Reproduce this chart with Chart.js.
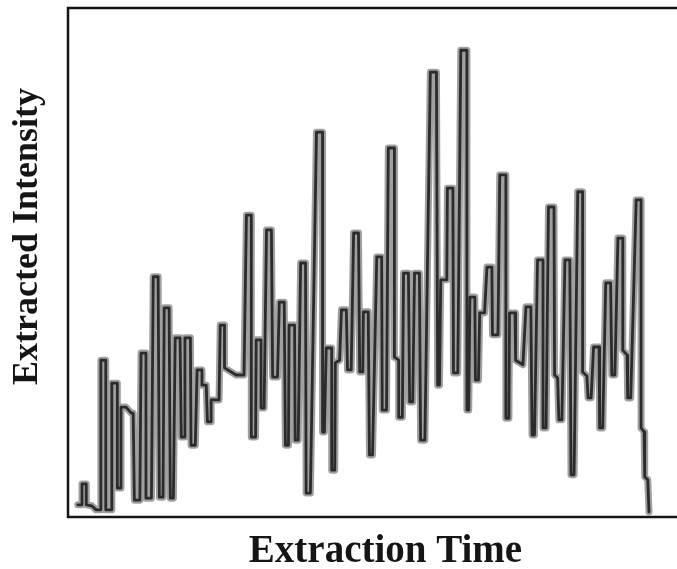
<!DOCTYPE html>
<html>
<head>
<meta charset="utf-8">
<title>Extracted Intensity vs Extraction Time</title>
<script src="https://cdn.jsdelivr.net/npm/chart.js@4.4.1/dist/chart.umd.min.js"></script>
<style>
  body { margin: 0; background: #fff; }
  .chart-box { width: 677px; height: 569px; }
</style>
</head>
<body>
<div class="chart-box"><canvas id="trace"></canvas></div>
<script>
// Recorder trace (time and intensity in % of full scale)
const extractionTime = [
  1.6, 2.3, 2.3, 3.0, 3.0, 3.9, 4.6, 5.4, 5.4, 6.2, 6.2, 7.1, 7.2, 8.1, 8.1, 8.6, 8.7, 9.5, 10.4, 10.7,
  10.9, 11.8, 12.0, 12.8, 12.8, 13.7, 14.0, 14.8, 15.0, 15.6, 15.8, 16.6, 16.8, 17.3, 17.6, 18.4, 18.6, 19.1, 19.2, 20.1,
  20.2, 20.9, 21.2, 22.0, 22.0, 22.7, 22.9, 23.5, 23.5, 24.8, 25.0, 25.7, 25.7, 27.6, 28.9, 29.3, 30.1, 30.1, 30.8, 30.9,
  31.7, 31.7, 32.2, 32.6, 33.4, 33.6, 34.4, 34.7, 35.5, 35.7, 36.2, 36.3, 37.2, 37.3, 37.8, 38.2, 39.0, 39.1, 39.8, 40.8,
  41.8, 41.8, 42.1, 42.4, 43.3, 43.3, 43.8, 43.9, 44.6, 44.9, 45.7, 45.9, 46.5, 46.9, 47.7, 47.9, 48.4, 48.5, 49.3, 49.5,
  50.0, 50.7, 51.5, 51.6, 52.3, 52.6, 53.6, 53.6, 54.3, 54.3, 54.9, 55.1, 55.9, 56.1, 56.6, 56.9, 57.7, 57.9, 58.6, 59.5,
  60.5, 60.7, 61.0, 61.2, 62.2, 62.3, 63.2, 63.3, 64.0, 64.5, 65.5, 65.5, 65.8, 66.0, 66.8, 66.9, 67.4, 67.6, 68.4, 68.8,
  69.6, 69.7, 70.6, 70.9, 71.9, 71.9, 72.4, 72.5, 73.4, 73.5, 74.7, 75.2, 76.0, 76.2, 76.6, 77.1, 78.0, 78.0, 78.5, 78.9,
  79.8, 79.9, 80.4, 80.6, 81.1, 81.6, 82.4, 82.6, 83.1, 83.7, 84.5, 84.5, 85.2, 85.4, 85.9, 86.3, 87.2, 87.3, 87.8, 88.3,
  89.1, 89.3, 89.8, 90.3, 91.1, 91.1, 91.8, 91.9, 92.4, 93.3, 94.1, 94.1, 94.6, 94.7, 95.2, 95.4
];
const extractedIntensity = [
  2.4, 2.4, 6.5, 6.5, 2.4, 2.2, 1.4, 1.4, 30.8, 30.8, 1.4, 1.4, 26.3, 26.3, 5.7, 5.7, 21.6, 21.6, 20.4, 20.4,
  3.3, 3.3, 32.2, 32.2, 3.7, 3.7, 47.2, 47.2, 3.9, 3.9, 41.1, 41.1, 3.7, 3.7, 35.2, 35.2, 15.7, 15.7, 35.2, 35.2,
  14.1, 14.1, 28.9, 28.9, 25.9, 25.9, 18.7, 18.7, 23.0, 23.0, 37.7, 37.7, 29.3, 27.9, 27.9, 59.3, 59.3, 15.7, 15.7, 34.8,
  34.8, 21.4, 21.4, 56.4, 56.4, 27.5, 27.5, 42.2, 42.2, 14.1, 14.1, 37.7, 37.7, 15.1, 15.1, 49.9, 49.9, 4.7, 4.7, 75.6,
  75.6, 16.7, 16.7, 33.2, 33.2, 9.2, 9.2, 30.3, 30.8, 40.7, 40.7, 28.9, 28.9, 55.8, 55.8, 28.5, 28.5, 40.3, 40.3, 12.2,
  12.2, 51.1, 51.1, 21.0, 21.0, 72.5, 72.5, 31.4, 30.8, 19.6, 19.6, 47.9, 47.9, 22.6, 22.6, 47.9, 47.9, 15.1, 15.1, 87.4,
  87.4, 25.9, 25.9, 46.6, 46.6, 64.6, 64.6, 28.3, 28.3, 91.7, 91.7, 21.0, 21.0, 43.2, 43.2, 26.9, 26.9, 40.1, 40.1, 49.1,
  49.1, 35.8, 35.8, 67.2, 67.2, 19.4, 19.4, 40.1, 40.1, 30.8, 29.9, 41.3, 41.3, 16.1, 16.1, 50.5, 50.5, 17.5, 17.5, 60.9,
  60.9, 27.9, 27.3, 19.1, 19.1, 50.5, 50.5, 8.3, 8.3, 63.9, 63.9, 28.5, 27.7, 23.4, 23.4, 33.4, 33.4, 17.5, 17.5, 46.0,
  46.0, 27.9, 27.9, 54.8, 54.8, 32.8, 31.8, 23.4, 23.4, 62.3, 62.3, 17.5, 16.7, 7.9, 7.3, 1.0
];

const xTitle = 'Extraction Time';
const yTitle = 'Extracted Intensity';

const tracePoints = extractionTime.map((t, i) => ({ x: t, y: extractedIntensity[i] }));

// open frame (no right edge) plus the two axis captions
const framePlugin = {
  id: 'frame',
  afterDraw(chart) {
    const { ctx, chartArea: a } = chart;
    ctx.save();
    ctx.strokeStyle = '#151515';
    ctx.lineWidth = 2.5;
    ctx.beginPath();
    ctx.moveTo(a.right + 2, a.top);
    ctx.lineTo(a.left, a.top);
    ctx.lineTo(a.left, a.bottom);
    ctx.lineTo(a.right + 2, a.bottom);
    ctx.stroke();

    ctx.fillStyle = '#151515';
    ctx.textAlign = 'center';
    ctx.textBaseline = 'middle';
    ctx.font = 'bold 39px "Liberation Serif"';
    ctx.fillText(xTitle, (a.left + a.right) / 2 + 13, a.bottom + 35);

    ctx.translate(a.left - 40, (a.top + a.bottom) / 2 - 26);
    ctx.rotate(-Math.PI / 2);
    ctx.font = 'bold 36px "Liberation Serif"';
    ctx.fillText(yTitle, 0, 0);
    ctx.restore();
  }
};

new Chart(document.getElementById('trace'), {
  type: 'line',
  data: {
    datasets: [
      {
        // dark pen edge
        data: tracePoints,
        borderColor: '#2b2b2b',
        borderWidth: 2.8,
        borderJoinStyle: 'round',
        borderCapStyle: 'round',
        pointRadius: 0,
        tension: 0
      },
      {
        // grey ink body underneath
        data: tracePoints,
        borderColor: '#a0a0a0',
        borderWidth: 7,
        borderJoinStyle: 'round',
        borderCapStyle: 'round',
        pointRadius: 0,
        tension: 0
      }
    ]
  },
  options: {
    responsive: true,
    maintainAspectRatio: false,
    animation: false,
    events: [],
    layout: { padding: { left: 68, top: 8, right: 0, bottom: 52 } },
    scales: {
      x: { type: 'linear', min: 0, max: 100, display: false },
      y: { min: 0, max: 100, display: false }
    },
    plugins: {
      legend: { display: false },
      tooltip: { enabled: false }
    }
  },
  plugins: [framePlugin]
});
</script>
</body>
</html>
